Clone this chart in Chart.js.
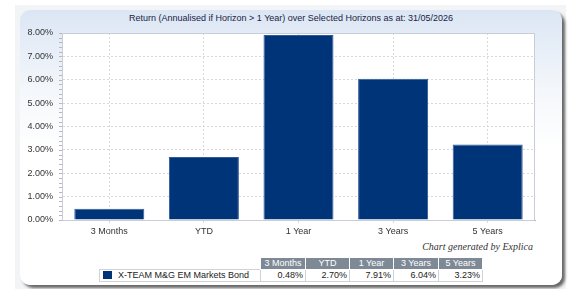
<!DOCTYPE html>
<html>
<head>
<meta charset="utf-8">
<script src="https://cdn.jsdelivr.net/npm/chart.js@4.4.1/dist/chart.umd.min.js"></script>
<style>
  body { margin: 0; background: #fff; font-family: Arial, "Liberation Sans", sans-serif; }
  #outer { position: absolute; left: 15px; top: 5px; width: 551px; height: 284px; background: #f3f4f6; }
  #panel {
    position: absolute; left: 20px; top: 10px; width: 542px; height: 275px;
    border-radius: 10px;
    background: linear-gradient(to bottom, #dbe6f4 0px, #f4f7fb 80px, #ffffff 140px);
    box-shadow: 3px 3px 3px #666;
  }
  #title { position: absolute; left: 0; top: 3px; width: 542px; text-align: center; font-size: 9px; color: #222244; }
  #chartBox { position: absolute; left: 0; top: 0; width: 542px; height: 230px; }
  #credit { position: absolute; right: 29px; top: 231px; font-family: "Liberation Serif", "Times New Roman", serif; font-style: italic; font-size: 10px; color: #333; }
  table { position: absolute; left: 79px; top: 247px; border-collapse: collapse; font-size: 9px; table-layout: fixed; width: 383px; }
  td { padding: 0 2px; height: 11px; line-height: 11px; overflow: hidden; white-space: nowrap; }
  .hd td.h { background: #7d8995; color: #fff; text-align: center; border: 1px solid #fff; }
  .row td { border: 1px solid #cfd3d8; background: #fff; text-align: right; color: #222; }
  .row td.lg { text-align: left; padding-left: 3px; }
  .sw { display: inline-block; width: 9px; height: 8px; background: #003478; vertical-align: -1px; margin-right: 6px; }
</style>
</head>
<body>
<div id="outer"></div>
<div id="panel">
  <div id="title"></div>
  <div id="chartBox"><canvas id="chart" width="542" height="230"></canvas></div>
  <div id="credit">Chart generated by Explica</div>
  <table id="tbl"></table>
</div>
<script>
// Data
const chartTitle = 'Return (Annualised if Horizon > 1 Year) over Selected Horizons as at: 31/05/2026';
const horizons = ['3 Months', 'YTD', '1 Year', '3 Years', '5 Years'];
const seriesName = 'X-TEAM M&G EM Markets Bond';
const returns = [0.48, 2.70, 7.91, 6.04, 3.23];
const yTicks = [0, 1, 2, 3, 4, 5, 6, 7, 8];

document.getElementById('title').textContent = chartTitle;

// Table under the chart
const tbl = document.getElementById('tbl');
const colWidths = [161, 45, 44, 44, 45, 44];
const cg = document.createElement('colgroup');
colWidths.forEach(w => {
  const c = document.createElement('col');
  c.style.width = w + 'px';
  cg.appendChild(c);
});
tbl.appendChild(cg);
const hd = document.createElement('tr');
hd.className = 'hd';
hd.innerHTML = '<td></td>' + horizons.map(h => `<td class="h">${h}</td>`).join('');
tbl.appendChild(hd);
const row = document.createElement('tr');
row.className = 'row';
const lg = document.createElement('td');
lg.className = 'lg';
lg.innerHTML = '<span class="sw"></span>';
lg.appendChild(document.createTextNode(seriesName));
row.appendChild(lg);
returns.forEach(v => {
  const td = document.createElement('td');
  td.textContent = v.toFixed(2) + '%';
  row.appendChild(td);
});
tbl.appendChild(row);

// Plot frame, white plot background and minor ticks
const framePlugin = {
  id: 'frame',
  beforeDraw(chart) {
    const { ctx, chartArea: a } = chart;
    ctx.save();
    ctx.fillStyle = '#ffffff';
    ctx.fillRect(a.left, a.top, a.right - a.left, a.bottom - a.top);
    ctx.restore();
  },
  afterDraw(chart) {
    const { ctx, chartArea: a, scales } = chart;
    ctx.save();
    ctx.strokeStyle = '#c9ced6';
    ctx.lineWidth = 1;
    ctx.strokeRect(a.left + 0.5, a.top + 0.5, a.right - a.left - 1, a.bottom - a.top);
    ctx.strokeStyle = '#b5b9bf';
    ctx.beginPath();
    for (let v = 0; v <= 8.001; v += 0.2) {
      const y = Math.round(scales.y.getPixelForValue(v)) + 0.5;
      ctx.moveTo(a.left - 3, y);
      ctx.lineTo(a.left, y);
    }
    ctx.stroke();
    ctx.restore();
  }
};

new Chart(document.getElementById('chart'), {
  type: 'bar',
  data: {
    labels: horizons,
    datasets: [{
      label: seriesName,
      data: returns,
      backgroundColor: '#003478',
      borderColor: '#2f5b96',
      borderWidth: 1,
      categoryPercentage: 1,
      barPercentage: 0.74
    }]
  },
  options: {
    responsive: false,
    animation: false,
    layout: { padding: { top: 23, right: 27, bottom: 0, left: 0 } },
    plugins: { legend: { display: false }, tooltip: { enabled: false } },
    scales: {
      x: {
        afterFit: (s) => { s.height = 20; },
        grid: { offset: false, color: '#d6d9de', tickLength: 3, drawTicks: true },
        border: { color: '#aab0b8', dash: [2, 2] },
        ticks: { color: '#333', font: { family: 'Arial, "Liberation Sans"', size: 9 }, padding: 3, maxRotation: 0 }
      },
      y: {
        min: 0,
        max: 8,
        afterFit: (s) => { s.width = 42; },
        afterBuildTicks: (s) => { s.ticks = yTicks.map(v => ({ value: v })); },
        grid: { color: '#d6d9de', tickLength: 0, drawTicks: false },
        border: { color: '#aab0b8', dash: [2, 2] },
        ticks: {
          color: '#333',
          font: { family: 'Arial, "Liberation Sans"', size: 9 },
          padding: 9,
          callback: (v) => Number(v).toFixed(2) + '%'
        }
      }
    }
  },
  plugins: [framePlugin]
});
</script>
</body>
</html>
